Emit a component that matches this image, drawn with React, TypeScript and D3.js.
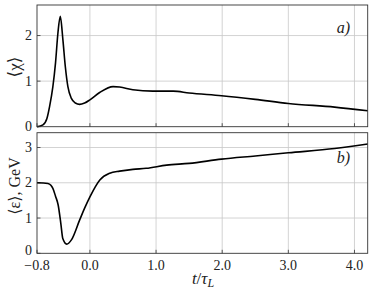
import React, {useEffect, useRef} from 'react';
import * as d3 from 'd3';

// time axis (t / tau_L) samples for panel a)
const chiT = [-0.8, -0.71, -0.65, -0.61, -0.56, -0.52, -0.484, -0.448, -0.408, -0.372, -0.333, -0.28, -0.22, -0.156, -0.08, 0.0, 0.147, 0.35, 0.45, 0.65, 0.95, 1.26, 1.5, 1.99, 2.5, 3.0, 3.7, 4.2];
const chiV = [0.0, 0.04, 0.18, 0.44, 0.88, 1.4, 2.05, 2.42, 1.9, 1.32, 0.88, 0.62, 0.52, 0.49, 0.52, 0.59, 0.75, 0.88, 0.87, 0.81, 0.78, 0.78, 0.74, 0.68, 0.6, 0.51, 0.43, 0.35];

// panel b)
const epsT = [-0.8, -0.635, -0.59, -0.56, -0.52, -0.48, -0.44, -0.41, -0.35, -0.28, -0.156, -0.08, 0.0, 0.15, 0.3, 0.45, 0.65, 0.85, 1.16, 1.5, 1.99, 2.5, 3.0, 3.7, 4.2];
const epsV = [2.0, 1.98, 1.93, 1.84, 1.62, 1.37, 0.85, 0.42, 0.26, 0.38, 0.94, 1.28, 1.6, 2.08, 2.27, 2.33, 2.38, 2.41, 2.5, 2.55, 2.67, 2.76, 2.85, 2.97, 3.1];

const xTicks = [-0.8, 0, 1, 2, 3, 4];
const chiTicks = [0, 1, 2];
const epsTicks = [0, 1, 2, 3];

const W = 374;
const H = 298;
const FONT = '"Liberation Serif", "DejaVu Serif", serif';

export default function App() {
  const ref = useRef<SVGSVGElement>(null);

  useEffect(() => {
    if (!ref.current) return;
    const svg = d3.select(ref.current);
    svg.selectAll('*').remove();

    const left = 37;
    const right = 367.7;
    const x = d3.scaleLinear().domain([-0.8, 4.2]).range([left, right]);

    const panels = [
      {top: 5, bottom: 126.7, max: 2.67, ticks: chiTicks, t: chiT, v: chiV, tag: 'a)', tagY: 33},
      {top: 132.7, bottom: 253.3, max: 3.42, ticks: epsTicks, t: epsT, v: epsV, tag: 'b)', tagY: 163},
    ];

    panels.forEach((p, i) => {
      const y = d3.scaleLinear().domain([0, p.max]).range([p.bottom, p.top]);
      const g = svg.append('g');

      // grid
      g.selectAll('.gx')
        .data(xTicks.slice(1))
        .join('line')
        .attr('x1', (d) => x(d))
        .attr('x2', (d) => x(d))
        .attr('y1', p.top)
        .attr('y2', p.bottom)
        .attr('stroke', '#c8c8c8')
        .attr('stroke-width', 0.8);
      g.selectAll('.gy')
        .data(p.ticks.slice(1))
        .join('line')
        .attr('x1', left)
        .attr('x2', right)
        .attr('y1', (d) => y(d))
        .attr('y2', (d) => y(d))
        .attr('stroke', '#c8c8c8')
        .attr('stroke-width', 0.8);

      // inward ticks
      g.selectAll('.tx')
        .data(xTicks)
        .join('line')
        .attr('x1', (d) => x(d))
        .attr('x2', (d) => x(d))
        .attr('y1', p.bottom)
        .attr('y2', p.bottom - 3.5)
        .attr('stroke', '#333')
        .attr('stroke-width', 0.8);
      g.selectAll('.ty')
        .data(p.ticks)
        .join('line')
        .attr('x1', left)
        .attr('x2', left + 3.5)
        .attr('y1', (d) => y(d))
        .attr('y2', (d) => y(d))
        .attr('stroke', '#333')
        .attr('stroke-width', 0.8);

      // curve
      const line = d3
        .line<number>()
        .x((_, j) => x(p.t[j]))
        .y((d) => y(d))
        .curve(d3.curveMonotoneX);
      g.append('path')
        .attr('d', line(p.v))
        .attr('fill', 'none')
        .attr('stroke', '#000')
        .attr('stroke-width', 1.6)
        .attr('stroke-linejoin', 'round');

      // frame
      g.append('rect')
        .attr('x', left)
        .attr('y', p.top)
        .attr('width', right - left)
        .attr('height', p.bottom - p.top)
        .attr('fill', 'none')
        .attr('stroke', '#333')
        .attr('stroke-width', 0.9);

      // y tick labels
      g.selectAll('.ly')
        .data(p.ticks)
        .join('text')
        .attr('x', left - 5)
        .attr('y', (d) => y(d))
        .attr('dy', (d) => (i === 1 && d === 0 ? '0.12em' : '0.33em'))
        .attr('text-anchor', 'end')
        .style('font-family', FONT)
        .style('font-size', '14px')
        .attr('fill', '#222')
        .text((d) => String(d));

      g.append('text')
        .attr('x', 350)
        .attr('y', p.tagY)
        .attr('text-anchor', 'end')
        .style('font-family', FONT)
        .style('font-style', 'italic')
        .style('font-size', '16px')
        .attr('fill', '#222')
        .text(p.tag);

      if (i === 1) {
        g.selectAll('.lx')
          .data(xTicks)
          .join('text')
          .attr('x', (d) => x(d))
          .attr('y', 270)
          .attr('text-anchor', 'middle')
          .style('font-family', FONT)
          .style('font-size', '14px')
          .attr('fill', '#222')
          .text((d) => d3.format('.1f')(d).replace('-', '\u2212'));
      }
    });

    // axis titles
    svg.append('text')
      .attr('transform', 'translate(20,67) rotate(-90)')
      .attr('text-anchor', 'middle')
      .style('font-family', FONT)
      .style('font-size', '17px')
      .attr('fill', '#222')
      .text('\u27E8\u03C7\u27E9');
    svg.append('text')
      .attr('transform', 'translate(20,186) rotate(-90)')
      .attr('text-anchor', 'middle')
      .style('font-family', FONT)
      .style('font-size', '16px')
      .attr('fill', '#222')
      .text('\u27E8\u03B5\u27E9, GeV');

    const xl = svg.append('text')
      .attr('x', 203)
      .attr('y', 284)
      .attr('text-anchor', 'middle')
      .style('font-family', FONT)
      .style('font-size', '17px')
      .attr('fill', '#222');
    xl.append('tspan').style('font-style', 'italic').text('t');
    xl.append('tspan').text('/');
    xl.append('tspan').style('font-style', 'italic').text('\u03C4');
    xl.append('tspan').style('font-style', 'italic').style('font-size', '12px').attr('dy', 3).text('L');
  }, []);

  return (
    <svg
      ref={ref}
      width={W}
      height={H}
      style={{position: 'absolute', left: 0, top: 0, background: '#fff'}}
    />
  );
}
